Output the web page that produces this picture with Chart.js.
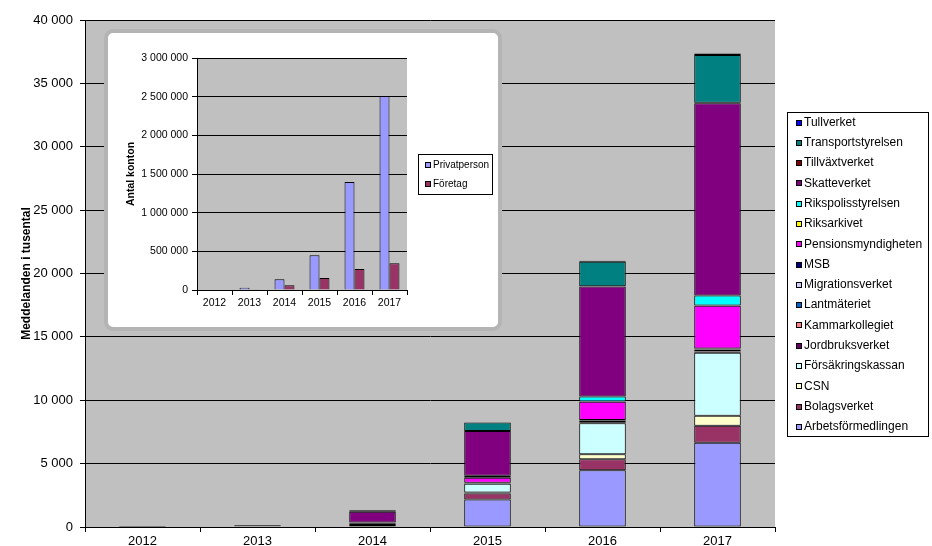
<!DOCTYPE html>
<html><head><meta charset="utf-8">
<script src="https://cdn.jsdelivr.net/npm/chart.js@4"></script>
<style>
html,body{margin:0;padding:0;background:#fff;}
#wrap{position:relative;width:932px;height:546px;overflow:hidden;}
#main{position:absolute;left:0;top:0;}
#frame{position:absolute;left:104px;top:29px;width:390px;height:294px;border:4px solid #b4b4b4;border-radius:9px;background:#fff;}
#inset{position:absolute;left:108px;top:33px;border-radius:6px;}
</style></head>
<body><div id="wrap">
<canvas id="main" width="932" height="546"></canvas>
<div id="frame"></div>
<canvas id="inset" width="389" height="294"></canvas>
</div>
<script>
// ---- data (main chart: messages, thousands) ----
const years = ['2012','2013','2014','2015','2016','2017'];
const agencyNames = ['Arbetsförmedlingen','Bolagsverket','CSN','Försäkringskassan','Jordbruksverket','Kammarkollegiet','Lantmäteriet','Migrationsverket','MSB','Pensionsmyndigheten','Riksarkivet','Rikspolisstyrelsen','Skatteverket','Tillväxtverket','Transportstyrelsen','Tullverket'];
const arbetsformedlingen = [20, 40, 150, 2160, 4470, 6650];
const bolagsverket       = [10, 20, 100, 475, 870, 1340];
const csn                = [0, 0, 10, 80, 395, 790];
const forsakringskassan  = [10, 20, 50, 700, 2450, 4970];
const jordbruksverket    = [0, 10, 10, 30, 80, 100];
const kammarkollegiet    = [0, 0, 0, 10, 20, 20];
const lantmateriet       = [0, 0, 10, 20, 80, 120];
const migrationsverket   = [0, 0, 0, 10, 40, 40];
const msb                = [0, 0, 0, 10, 40, 60];
const pensionsmyndigheten= [0, 10, 20, 395, 1445, 3360];
const riksarkivet        = [0, 0, 0, 0, 10, 20];
const rikspolisstyrelsen = [0, 0, 10, 160, 395, 790];
const skatteverket       = [30, 50, 850, 3520, 8680, 15180];
const tillvaxtverket     = [0, 0, 0, 10, 20, 30];
const transportstyrelsen = [0, 10, 120, 660, 1925, 3760];
const tullverket         = [0, 0, 0, 10, 80, 130];
const mainTicks = [0, 5000, 10000, 15000, 20000, 25000, 30000, 35000, 40000];

// ---- data (inset: number of accounts) ----
const insetSeries = ['Privatperson','Företag'];
const privatperson = [8000, 30000, 140000, 450000, 1395000, 2510000];
const foretag      = [6000, 10000, 60000, 155000, 270000, 345000];
const insetTicks = [0, 500000, 1000000, 1500000, 2000000, 2500000, 3000000];

// ---- styles ----
const agencyColors = ['#9999FF','#993366','#FFFFCC','#CCFFFF','#660066','#FF8080','#0066CC','#CCCCFF','#000080','#FF00FF','#FFFF00','#00FFFF','#800080','#800000','#008080','#0000FF'];
const insetColors = ['#9999FF','#993366'];
const agencyValues = [arbetsformedlingen,bolagsverket,csn,forsakringskassan,jordbruksverket,kammarkollegiet,lantmateriet,migrationsverket,msb,pensionsmyndigheten,riksarkivet,rikspolisstyrelsen,skatteverket,tillvaxtverket,transportstyrelsen,tullverket];

const FONT = "'Liberation Sans', Arial, sans-serif";
const fmt = v => String(v).replace(/\B(?=(\d{3})+(?!\d))/g, ' ');

const plotBg = {
  id: 'plotBg',
  beforeDraw(chart) {
    const {ctx, chartArea: a} = chart;
    ctx.save();
    ctx.fillStyle = '#c0c0c0';
    ctx.fillRect(a.left, a.top, a.right - a.left, a.bottom - a.top);
    ctx.restore();
  }
};

function boxLegend(opts) {
  return {
    id: 'boxLegend',
    afterDraw(chart) {
      const ctx = chart.ctx;
      const ds = chart.data.datasets.slice();
      if (opts.reverse) ds.reverse();
      ctx.save();
      ctx.strokeStyle = '#000';
      ctx.lineWidth = 1;
      ctx.fillStyle = '#fff';
      ctx.fillRect(opts.x, opts.y, opts.w, opts.h);
      ctx.strokeRect(opts.x + 0.5, opts.y + 0.5, opts.w, opts.h);
      ctx.font = opts.font;
      ctx.textBaseline = 'middle';
      ds.forEach((d, i) => {
        const cy = opts.firstY + i * opts.step;
        ctx.fillStyle = d.backgroundColor;
        ctx.fillRect(opts.boxX, Math.round(cy - opts.box / 2), opts.box, opts.box);
        ctx.strokeRect(opts.boxX + 0.5, Math.round(cy - opts.box / 2) + 0.5, opts.box - 1, opts.box - 1);
        ctx.fillStyle = '#000';
        ctx.fillText(d.label, opts.textX, cy);
      });
      ctx.restore();
    }
  };
}

new Chart(document.getElementById('main'), {
  type: 'bar',
  data: {
    labels: years,
    datasets: agencyNames.map((n, i) => ({
      label: n,
      data: agencyValues[i],
      backgroundColor: agencyColors[i],
      borderColor: '#000',
      borderWidth: 1,
      borderSkipped: false,
      categoryPercentage: 0.405,
      barPercentage: 1
    }))
  },
  options: {
    responsive: false,
    animation: false,
    devicePixelRatio: 1,
    layout: {padding: {left: 0, top: 20, right: 157, bottom: 0}},
    plugins: {legend: {display: false}, tooltip: {enabled: false}},
    scales: {
      x: {
        stacked: true,
        offset: true,
        afterFit: s => { s.height = 19; },
        grid: {drawOnChartArea: false, offset: true, color: '#000', tickColor: '#000', tickLength: 5},
        border: {color: '#000'},
        ticks: {color: '#000', font: {family: FONT, size: 13}, padding: 2, maxRotation: 0}
      },
      y: {
        stacked: true,
        min: 0, max: 40000,
        afterFit: s => { s.width = 85; },
        afterBuildTicks: s => { s.ticks = mainTicks.map(v => ({value: v})); },
        grid: {color: '#000', tickColor: '#000', tickLength: 5},
        border: {color: '#000'},
        ticks: {color: '#000', font: {family: FONT, size: 13}, padding: 7, callback: v => fmt(v)},
        title: {display: true, text: 'Meddelanden i tusental', color: '#000', font: {family: FONT, size: 12, weight: 'bold'}, padding: {top: 19, bottom: 0}}
      }
    }
  },
  plugins: [plotBg, boxLegend({x: 787, y: 112, w: 141, h: 324, firstY: 122.5, step: 20.29, box: 6, boxX: 796, textX: 804, font: '12px ' + FONT, reverse: true})]
});

new Chart(document.getElementById('inset'), {
  type: 'bar',
  data: {
    labels: years,
    datasets: [
      {label: insetSeries[0], data: privatperson, backgroundColor: insetColors[0], borderColor: '#000', borderWidth: 1, categoryPercentage: 0.57, barPercentage: 1},
      {label: insetSeries[1], data: foretag, backgroundColor: insetColors[1], borderColor: '#000', borderWidth: 1, categoryPercentage: 0.57, barPercentage: 1}
    ]
  },
  options: {
    responsive: false,
    animation: false,
    devicePixelRatio: 1,
    layout: {padding: {left: 0, top: 25, right: 90, bottom: 0}},
    plugins: {legend: {display: false}, tooltip: {enabled: false}},
    scales: {
      x: {
        offset: true,
        afterFit: s => { s.height = 37; },
        grid: {drawOnChartArea: false, offset: true, color: '#000', tickColor: '#000', tickLength: 5},
        border: {color: '#000'},
        ticks: {color: '#000', font: {family: FONT, size: 10.5}, padding: 2, maxRotation: 0}
      },
      y: {
        min: 0, max: 3000000,
        afterFit: s => { s.width = 89; },
        afterBuildTicks: s => { s.ticks = insetTicks.map(v => ({value: v})); },
        grid: {color: '#000', tickColor: '#000', tickLength: 5},
        border: {color: '#000'},
        ticks: {color: '#000', font: {family: FONT, size: 10.5}, padding: 4, callback: v => fmt(v)},
        title: {display: true, text: 'Antal konton', color: '#000', font: {family: FONT, size: 10.5, weight: 'bold'}, padding: {top: 17, bottom: 0}}
      }
    }
  },
  plugins: [plotBg, boxLegend({x: 310, y: 121, w: 74, h: 40, firstY: 132, step: 19, box: 6, boxX: 317, textX: 325, font: '10px ' + FONT, reverse: false})]
});
</script>
</body></html>
